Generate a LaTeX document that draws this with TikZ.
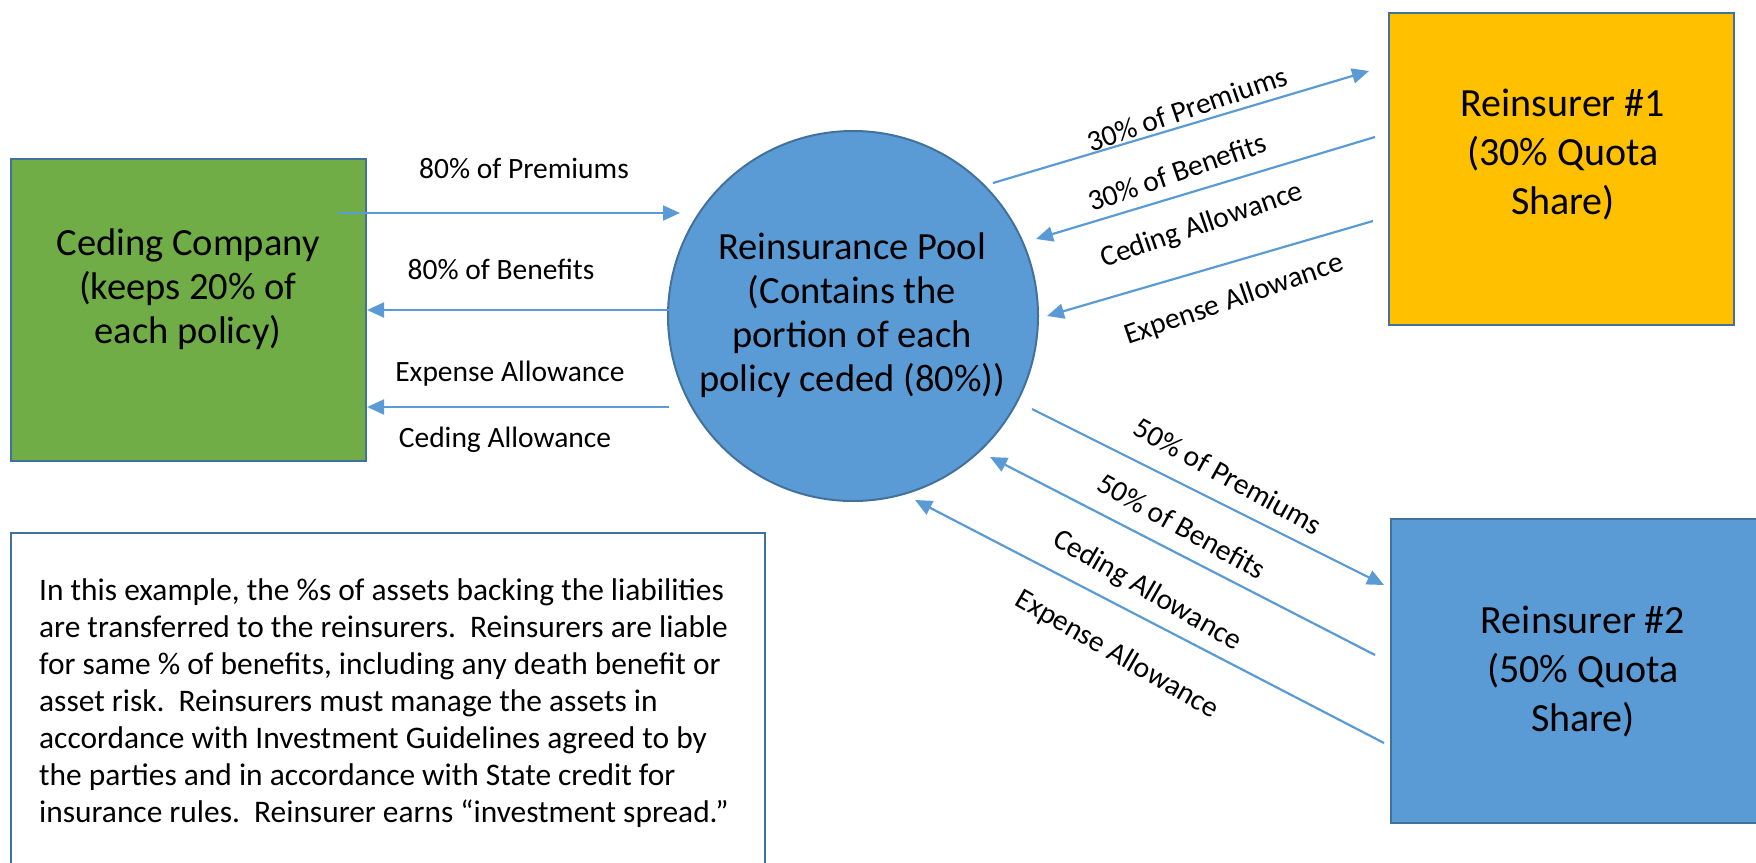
\documentclass[tikz,border=0pt]{standalone}
\usepackage{fontspec}
\setmainfont{Carlito}
\usetikzlibrary{arrows.meta}
\definecolor{cgreen}{HTML}{70AD47}
\definecolor{cgold}{HTML}{FFC000}
\definecolor{cblue}{HTML}{5B9BD5}
\definecolor{cedge}{HTML}{41719C}
\definecolor{carrow}{HTML}{5B9BD5}
\begin{document}
\begin{tikzpicture}[x=1pt,y=-1pt,
  box/.style={draw=cedge, line width=2.2pt, rectangle, inner sep=0pt},
  bigtext/.style={align=center, font=\fontsize{38.5}{44}\selectfont},
  quotatext/.style={align=center, font=\fontsize{40}{49}\selectfont},
  flow/.style={draw=carrow, line width=2.2pt, -{Triangle[length=17pt,width=15pt]}},
  flowlabel/.style={font=\fontsize{29.5}{35}\selectfont, inner sep=0pt},
]
\useasboundingbox (0,0) rectangle (1756,862);
\clip (0,0) rectangle (1756,862);

% parties
\node[box, fill=cgreen, minimum width=355pt, minimum height=302pt] (ced) at (188.5,310) {};
\node[bigtext] (cedtxt) at (188,289) {Ceding Company\\(keeps 20\% of\\each policy)};

\node[circle, draw=cedge, fill=cblue, line width=2pt, minimum size=370pt, inner sep=0pt] (pool) at (853,316) {};
\node[bigtext] (pooltxt) at (852,315) {Reinsurance Pool\\(Contains the\\portion of each\\policy ceded (80\%))};

\node[box, fill=cgold, minimum width=345pt, minimum height=312pt] (re1) at (1561.5,169) {};
\node[quotatext] (re1txt) at (1563,155) {Reinsurer \#1\\(30\% Quota\\Share)};

\node[box, fill=cblue, minimum width=385pt, minimum height=304pt] (re2) at (1583.5,671) {};
\node[quotatext] (re2txt) at (1583,672) {Reinsurer \#2\\(50\% Quota\\Share)};

% explanatory note
\node[box, fill=white, minimum width=754pt, minimum height=367pt] (note) at (388,716.5) {};
\node[anchor=west, align=left, inner sep=0pt, font=\fontsize{31.4}{37}\selectfont] (notetxt) at (39,703)
  {In this example, the \%s of assets backing the liabilities\\
   are transferred to the reinsurers.\ \ Reinsurers are liable\\
   for same \% of benefits, including any death benefit or\\
   asset risk.\ \ Reinsurers must manage the assets in\\
   accordance with Investment Guidelines agreed to by\\
   the parties and in accordance with State credit for\\
   insurance rules.\ \ Reinsurer earns “investment spread.”};

% flows between ceding company and pool
\coordinate (g1) at (338,213);
\coordinate (g2) at (680,213);
\coordinate (h1) at (669,310);
\coordinate (h2) at (ced.east |- h1);
\coordinate (i1) at (669,407);
\coordinate (i2) at (ced.east |- i1);
\draw[flow] (g1) -- (g2);
\draw[flow] (h1) -- (h2);
\draw[flow] (i1) -- (i2);
\node[flowlabel] (lg) at (524,168) {80\% of Premiums};
\node[flowlabel] (lh) at (501,269) {80\% of Benefits};
\node[flowlabel] (li1) at (510,374) {Expense Allowance};
\node[flowlabel] (li2) at (505,440) {Ceding Allowance};

% flows between pool and reinsurer 1
\coordinate (a1) at (993,183);
\coordinate (a2) at (1369,71);
\coordinate (b1) at (1375,137);
\coordinate (b2) at (1036,239);
\coordinate (c1) at (1373,221);
\coordinate (c2) at (1047,316);
\draw[flow] (a1) -- (a2);
\draw[flow] (b1) -- (b2);
\draw[flow] (c1) -- (c2);
\node[flowlabel, rotate=19] (la) at (1187,109) {30\% of Premiums};
\node[flowlabel, rotate=19] (lb) at (1177,172) {30\% of Benefits};
\node[flowlabel, rotate=19] (lc1) at (1202,226) {Ceding Allowance};
\node[flowlabel, rotate=19] (lc2) at (1234,300) {Expense Allowance};

% flows between pool and reinsurer 2
\coordinate (d1) at (1032,409);
\coordinate (d2) at (1384,585);
\coordinate (e1) at (1375,655);
\coordinate (e2) at (990,457);
\coordinate (f1) at (1384,743);
\coordinate (f2) at (915,500);
\draw[flow] (d1) -- (d2);
\draw[flow] (e1) -- (e2);
\draw[flow] (f1) -- (f2);
\node[flowlabel, rotate=-29] (ld) at (1228,476) {50\% of Premiums};
\node[flowlabel, rotate=-29] (le) at (1182,526) {50\% of Benefits};
\node[flowlabel, rotate=-30] (lf1) at (1147,591) {Ceding Allowance};
\node[flowlabel, rotate=-30] (lf2) at (1117,655) {Expense Allowance};
\end{tikzpicture}
\end{document}
